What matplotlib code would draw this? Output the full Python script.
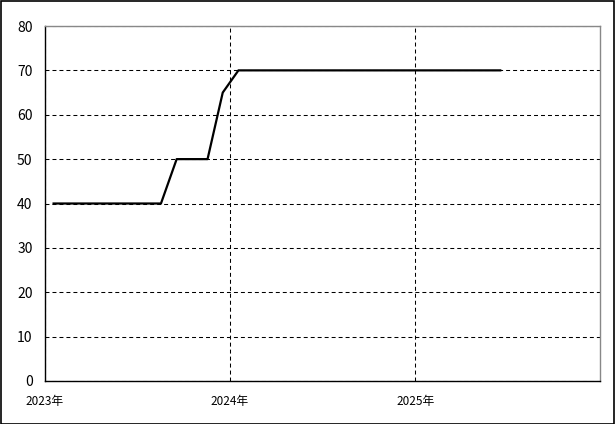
import matplotlib
matplotlib.use("Agg")
import matplotlib.pyplot as plt
import pandas as pd
from matplotlib.patches import Rectangle

plt.rcParams["font.family"] = ["Noto Sans CJK JP", "DejaVu Sans"]

# monthly values, Jan 2023 .. Jun 2025 (points sit mid-month)
months = pd.date_range("2023-01-01", periods=30, freq="MS") + pd.Timedelta(days=17)
values = [40, 40, 40, 40, 40, 40, 40, 40,
          50, 50, 50,
          65,
          70, 70, 70, 70, 70, 70, 70, 70, 70, 70, 70, 70, 70, 70, 70, 70, 70, 70]
year_ticks = ["2023-01-01", "2024-01-01", "2025-01-01"]
year_labels = ["2023年", "2024年", "2025年"]
y_ticks = [0, 10, 20, 30, 40, 50, 60, 70, 80]

fig = plt.figure(figsize=(6.15, 4.24), dpi=100)
ax = fig.add_axes([45 / 615, 43 / 424, 555 / 615, 355 / 424])

ax.plot(months, values, color="black", linewidth=1.6, zorder=3)

ax.set_xlim(pd.Timestamp("2023-01-01"), pd.Timestamp("2026-01-01"))
ax.set_ylim(0, 80)
ax.set_xticks(pd.to_datetime(year_ticks))
ax.set_xticklabels(year_labels, fontsize=8.5)
ax.set_yticks(y_ticks)
ax.set_yticklabels([str(v) for v in y_ticks], fontsize=10)
ax.tick_params(length=0)
ax.tick_params(axis="y", pad=9)
ax.tick_params(axis="x", pad=10)

ax.grid(True, color="black", linestyle=(0, (3.8, 2.9)), linewidth=0.75)

for side in ("left", "bottom"):
    ax.spines[side].set_color("black")
    ax.spines[side].set_linewidth(1.0)
for side in ("top", "right"):
    ax.spines[side].set_color("#888888")
    ax.spines[side].set_linewidth(1.0)

fig.patches.append(Rectangle((0.001, 0.001), 0.997, 0.997, transform=fig.transFigure,
                             fill=False, edgecolor="black", linewidth=1.2))

fig.savefig("out.png", dpi=100)
